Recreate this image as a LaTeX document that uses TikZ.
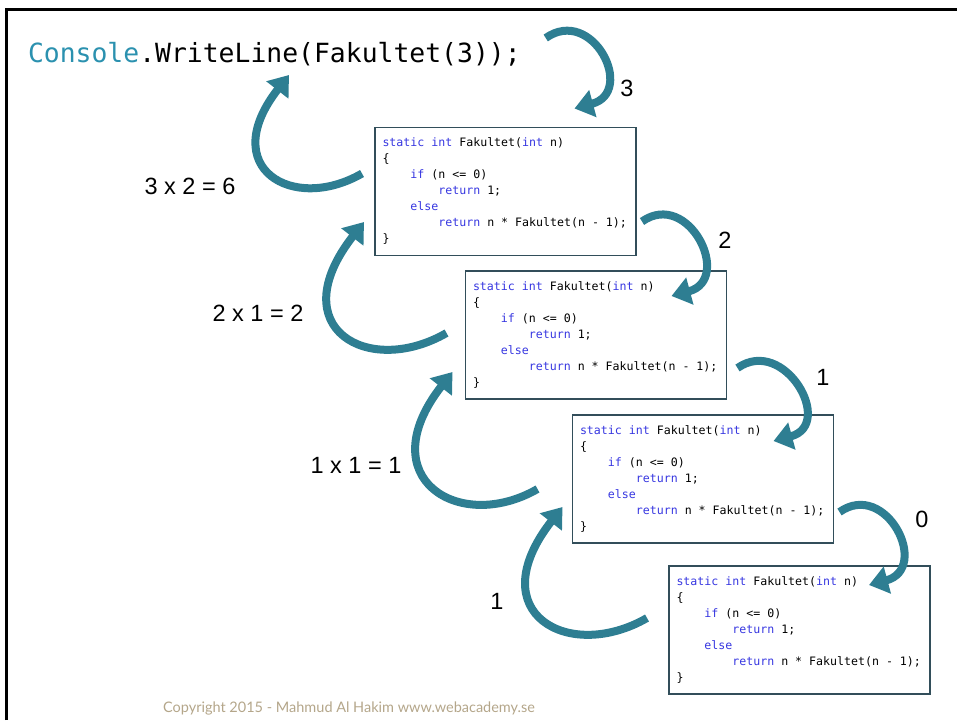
\documentclass[tikz,border=0pt]{standalone}
\usepackage{fontspec}
\setmainfont{Liberation Sans}
\setmonofont{DejaVu Sans Mono}
\newfontfamily\slidefont{Lato}
\usetikzlibrary{arrows.meta}
\newcommand\kw[1]{\textcolor[RGB]{55,55,225}{#1}}
\newcommand\ind{\phantom{0000}}
\newcommand\fakcode{\spaceskip=0.602em\relax
\kw{static} \kw{int} Fakultet(\kw{int} n)\\%
\{\\%
\ind\kw{if} (n <= 0)\\%
\ind\ind\kw{return} 1;\\%
\ind\kw{else}\\%
\ind\ind\kw{return} n * Fakultet(n - 1);\\%
\}}

\begin{document}
\begin{tikzpicture}[x=1pt,y=1pt,every node/.style={outer sep=0pt},
  code/.style={draw={rgb,255:red,50;green,78;blue,90},line width=1.3pt,fill=white,align=left,text width=246pt,inner xsep=7.5pt,minimum height=128pt,font=\fontsize{11.6}{16}\selectfont\ttfamily},
  num/.style={font=\fontsize{23.5}{26}\selectfont},
  call/.style={draw={rgb,255:red,46;green,126;blue,146},line width=8pt,-{Triangle[length=19pt,width=27pt]}},
  ret/.style={call}]
\useasboundingbox (0,0) rectangle (957,-720);
\draw[line width=3pt] (6,-720) -- (6,-9) -- (957,-9);

\node[anchor=base west,inner sep=0pt,font=\fontsize{26.4}{30}\selectfont\ttfamily] (cw) at (28,-62) {\textcolor[RGB]{43,145,175}{Console}.WriteLine(Fakultet(3));};

\node[code] (f1) at (505.5,-191.5) {\fakcode};
\node[code] (f2) at (596,-335) {\fakcode};
\node[code] (f3) at (703,-479) {\fakcode};
\node[code] (f4) at (799.5,-630) {\fakcode};

% anrop nedat
\draw[call] ([shift={(25,24)}]cw.base east) .. controls +(35:57) and +(15:64) .. ([shift={(69,19)}]f1.north);
\draw[call] ([shift={(6,-30)}]f1.east) .. controls +(35:57) and +(15:64) .. ([shift={(-55,-25)}]f2.north east);
\draw[call] ([shift={(11,-33)}]f2.east) .. controls +(35:57) and +(15:64) .. ([shift={(-60,-26)}]f3.north east);
\draw[call] ([shift={(6,-33)}]f3.east) .. controls +(35:57) and +(15:64) .. ([shift={(-61,-19)}]f4.north east);
\node[num] (n3) at (627,-88) {3};
\node[num] (n2) at (725,-240) {2};
\node[num] (n1) at (823,-377) {1};
\node[num] (n0) at (922,-519) {0};

% retur uppat
\draw[ret] ([shift={(-13,18)}]f1.west) .. controls +(210:80) and +(232:118) .. ([shift={(261,-13)}]cw.base west);
\draw[ret] ([shift={(-19,2)}]f2.west) .. controls +(210:90) and +(232:135) .. ([shift={(-11,-30.5)}]f1.west);
\draw[ret] ([shift={(-35,-10)}]f3.west) .. controls +(210:90) and +(232:135) .. ([shift={(-13,-37)}]f2.west);
\draw[ret] ([shift={(-22,12)}]f4.west) .. controls +(210:90) and +(232:135) .. ([shift={(-10,-28)}]f3.west);
\node[num] (r6) at (190,-186) {3 x 2 = 6};
\node[num] (r2) at (258,-313) {2 x 1 = 2};
\node[num] (r1) at (356,-465) {1 x 1 = 1};
\node[num] (r0) at (497,-601) {1};

\node[font=\slidefont\fontsize{14.5}{18}\selectfont,text={rgb,255:red,180;green,166;blue,138}] (copy) at (349,-708) {Copyright 2015 - Mahmud Al Hakim www.webacademy.se};
\end{tikzpicture}
\end{document}
